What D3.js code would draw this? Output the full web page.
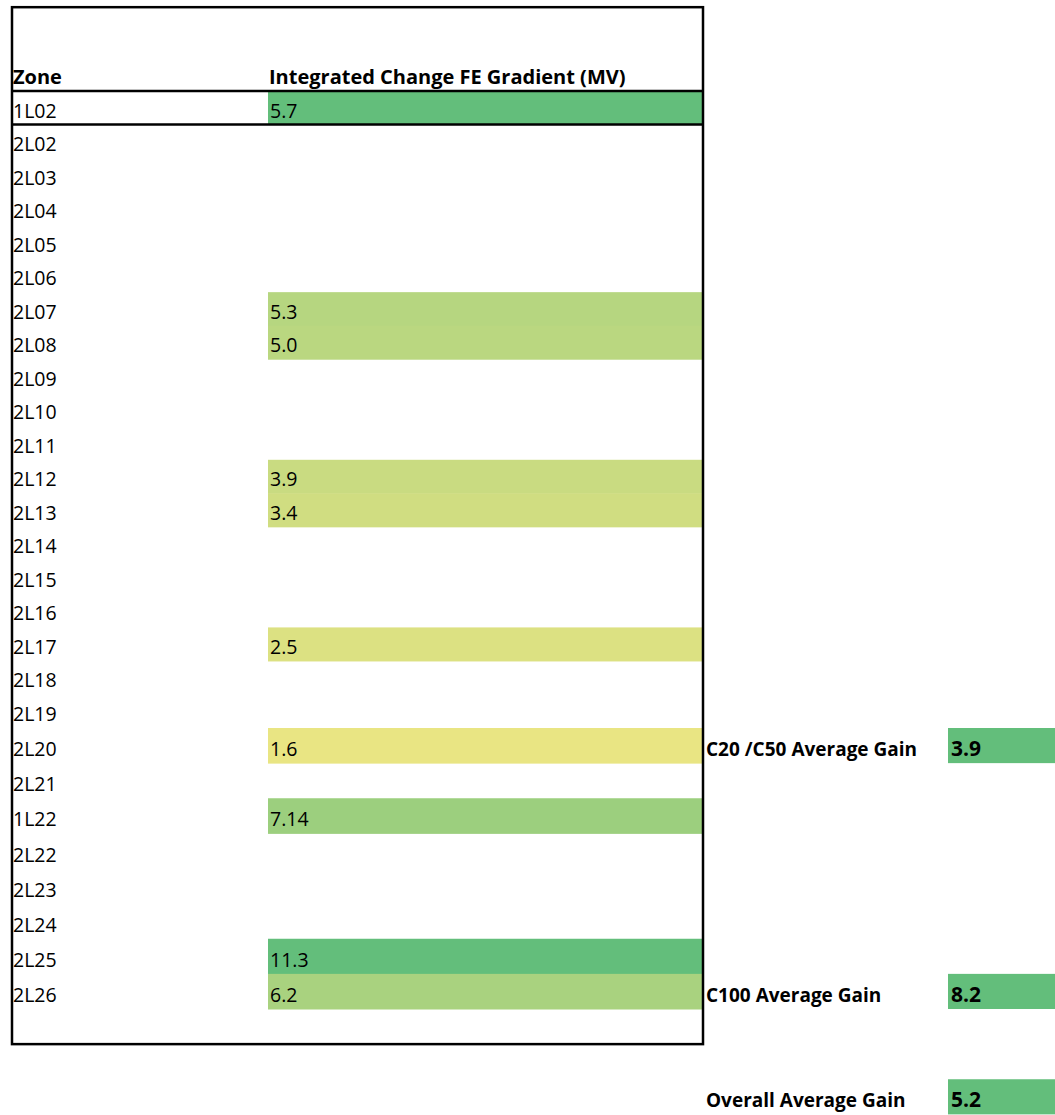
<!DOCTYPE html>
<html>
<head>
<meta charset="utf-8">
<script src="https://cdn.jsdelivr.net/npm/d3@7"></script>
<style>
  body { margin: 0; background: #fff; }
  text { font-family: "Open Sans", sans-serif; fill: #000; }
</style>
</head>
<body>
<svg id="sheet"></svg>
<script>
var zones = ["1L02","2L02","2L03","2L04","2L05","2L06","2L07","2L08","2L09","2L10",
             "2L11","2L12","2L13","2L14","2L15","2L16","2L17","2L18","2L19","2L20",
             "2L21","1L22","2L22","2L23","2L24","2L25","2L26"],
    gains = [5.7, null, null, null, null, null, 5.3, 5.0, null, null,
             null, 3.9, 3.4, null, null, null, 2.5, null, null, 1.6,
             null, 7.14, null, null, null, 11.3, 6.2],
    gainLabels = ["5.7","","","","","","5.3","5.0","","",
                  "","3.9","3.4","","","","2.5","","","1.6",
                  "","7.14","","","","11.3","6.2"],
    headers = ["Zone", "Integrated Change FE Gradient (MV)"],
    summaryLabels = ["C20 /C50 Average Gain", "C100 Average Gain", "Overall Average Gain"],
    summaryValues = [3.9, 8.2, 5.2];

var width = 1055, height = 1115;

// table rows built from the arrays above
var table = zones.map(function(z, i) {
  return {zone: z, gain: gains[i], label: gainLabels[i], row: i};
});

// rows in the screenshot get a little taller below 2L20
var yScale = d3.scaleLinear()
      .domain([0, 19, 27])
      .range([91, 728, 1009]);

var xScale = d3.scaleOrdinal()
      .domain(["zone", "gain", "label", "value", "end"])
      .range([12, 268, 703, 948, 1060]);

// summary lines sit on the 2L20 and 2L26 rows, the overall one further down
var summaryRow = [zones.indexOf("2L20"), zones.indexOf("2L26"), zones.length + 2];

var colour = d3.scaleLinear()
      .domain([0, d3.max(gains)])
      .range(["#ffeb84", "#63be7b"]);

function rowTop(i) { return yScale(i); }
function rowH(i) { return yScale(i + 1) - yScale(i); }

var svg = d3.select("#sheet")
    .attr("width", width)
    .attr("height", height);

// 1L02 carries its own single-cell rule, so it comes out at the top colour
function fillFor(d) {
  if (d.row === 0) return colour(colour.domain()[1]);
  return colour(d.gain);
}

svg.append("g")
  .attr("class", "cells")
  .selectAll("rect")
  .data(table.filter(function(d) { return d.gain != null; }))
  .enter().append("rect")
    .attr("x", xScale("gain"))
    .attr("y", function(d) { return rowTop(d.row); })
    .attr("width", xScale("label") - xScale("gain"))
    .attr("height", function(d) { return rowH(d.row) + 0.5; })
    .attr("fill", fillFor);

// summary cells, each its own rule -> top colour
svg.append("g")
  .selectAll("rect")
  .data(summaryValues)
  .enter().append("rect")
    .attr("x", xScale("value"))
    .attr("y", function(d, i) { return rowTop(summaryRow[i]); })
    .attr("width", xScale("end") - xScale("value"))
    .attr("height", function(d, i) { return rowH(summaryRow[i]); })
    .attr("fill", colour(colour.domain()[1]));

// header
svg.append("g")
  .selectAll("text")
  .data(headers)
  .enter().append("text")
    .attr("x", function(d, i) { return (i === 0 ? xScale("zone") : xScale("gain")) + 1; })
    .attr("y", rowTop(0) - 7)
    .style("font-size", "20px")
    .style("font-weight", "bold")
    .text(function(d) { return d; });

var rows = svg.append("g").attr("class", "rows");

rows.selectAll(".zone")
  .data(table)
  .enter().append("text")
    .attr("class", "zone")
    .attr("x", xScale("zone") + 1)
    .attr("y", function(d) { return rowTop(d.row + 1) - 7; })
    .style("font-size", "19.5px")
    .text(function(d) { return d.zone; });

rows.selectAll(".gain")
  .data(table)
  .enter().append("text")
    .attr("class", "gain")
    .attr("x", xScale("gain") + 2)
    .attr("y", function(d) { return rowTop(d.row + 1) - 7; })
    .style("font-size", "19.5px")
    .text(function(d) { return d.label; });

var summary = svg.append("g").attr("class", "summary");

summary.selectAll(".slabel")
  .data(summaryLabels)
  .enter().append("text")
    .attr("class", "slabel")
    .attr("x", xScale("label") + 3)
    .attr("y", function(d, i) { return rowTop(summaryRow[i] + 1) - 7; })
    .style("font-size", "19px")
    .style("font-weight", "bold")
    .text(function(d) { return d; });

summary.selectAll(".svalue")
  .data(summaryValues)
  .enter().append("text")
    .attr("class", "svalue")
    .attr("x", xScale("value") + 3)
    .attr("y", function(d, i) { return rowTop(summaryRow[i] + 1) - 7; })
    .style("font-size", "21px")
    .style("font-weight", "bold")
    .text(function(d) { return d3.format(".1f")(d); });

// borders: outer box, header rule and the line under 1L02
var lines = svg.append("g")
    .attr("fill", "none")
    .attr("stroke", "#000")
    .attr("stroke-width", 2.5);

lines.append("rect")
    .attr("x", xScale("zone"))
    .attr("y", yScale(-2.5))
    .attr("width", xScale("label") - xScale("zone"))
    .attr("height", yScale(zones.length + 1) - yScale(-2.5));

lines.selectAll("line")
  .data([0, 1])
  .enter().append("line")
    .attr("x1", xScale("zone"))
    .attr("x2", xScale("label"))
    .attr("y1", function(d) { return yScale(d); })
    .attr("y2", function(d) { return yScale(d); });
</script>
</body>
</html>
